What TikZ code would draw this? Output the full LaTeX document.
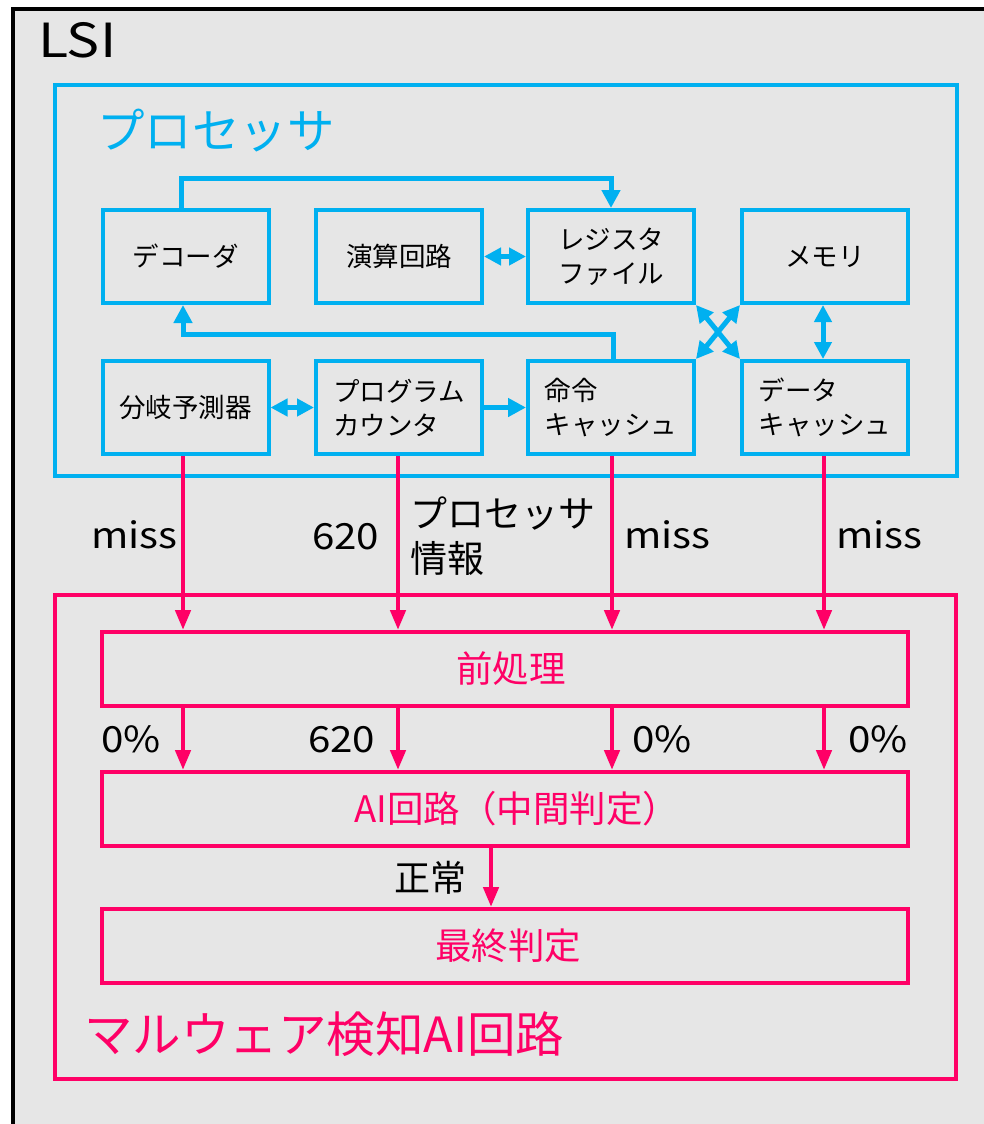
\documentclass[tikz,border=0pt]{standalone}
\usepackage{fontspec}
\setmainfont{Noto Sans CJK JP}
\newfontfamily\widefont[FakeStretch=1.12]{Noto Sans CJK JP}
\newfontfamily\wlsifont[FakeStretch=1.18]{Noto Sans CJK JP}
\usetikzlibrary{arrows.meta,calc}
\definecolor{cy}{HTML}{00B0F0}
\definecolor{pk}{HTML}{FF0066}
\definecolor{bg}{HTML}{E6E6E6}
\tikzset{
  cbox/.style={draw=cy, line width=4pt, minimum width=166pt, minimum height=93pt, inner sep=0pt, align=left, font=\fontsize{26.5}{34}\selectfont},
  pbox/.style={draw=pk, line width=4pt, minimum width=806pt, minimum height=74pt, inner sep=0pt, text=pk, font=\fontsize{36.5}{40}\selectfont},
  carrow/.style={draw=cy, line width=5pt, -{Triangle[length=18pt,width=18pt]}},
  cdarrow/.style={draw=cy, line width=5pt, {Triangle[length=17pt,width=17pt]}-{Triangle[length=17pt,width=17pt]}},
  parrow/.style={draw=pk, line width=4.5pt, -{Triangle[length=20pt,width=15pt]}},
  lab/.style={font=\widefont\fontsize{36}{45}\selectfont, inner sep=0pt, anchor=base west},
}
\begin{document}
\begin{tikzpicture}[x=1pt,y=-1pt]
\useasboundingbox (0,0) rectangle (984,1124);
\fill[white] (0,0) rectangle (984,1124);
\draw[line width=3.5pt, fill=bg] (13,9) rectangle (1010,1150);
\node[lab, font=\wlsifont\fontsize{47}{50}\selectfont] (lsi) at (38,58) {LSI};
% processor
\draw[draw=cy, line width=4pt] (55,85) rectangle (957,476);
\node[lab, text=cy, font=\fontsize{47.5}{50}\selectfont] (proct) at (97,148) {プロセッサ};
\node[cbox] (dec) at (185.5,256.5) {デコーダ};
\node[cbox] (alu) at (399,256.5) {演算回路};
\node[cbox] (reg) at (611,256.5) {レジスタ\\ファイル};
\node[cbox] (mem) at (825,256.5) {メモリ};
\node[cbox] (bp) at (185.5,407.5) {分岐予測器};
\node[cbox] (pc) at (399,407.5) {プログラム\\カウンタ};
\node[cbox] (ic) at (611,407.5) {命令\\キャッシュ};
\node[cbox] (dc) at (825,407.5) {データ\\キャッシュ};
\draw[carrow] ([xshift=-4.5pt]dec.north) |- ($(reg.north)+(0,-30)$) -- (reg.north);
\draw[carrow] ([xshift=2pt]ic.north) |- ($([xshift=-2.5pt]dec.south)+(0,29)$) -- ([xshift=-2.5pt]dec.south);
\draw[cdarrow] (alu.east) -- (reg.west);
\draw[cdarrow] (bp.east) -- (pc.west);
\draw[carrow] (pc.east) -- (ic.west);
\draw[cdarrow] (reg.south east) -- (dc.north west);
\draw[cdarrow] (mem.south west) -- (ic.north east);
\draw[cdarrow] ([xshift=-2pt]mem.south) -- ([xshift=-2pt]dc.north);
% malware detection
\draw[draw=pk, line width=4pt] (55,595) rectangle (956,1079);
\node[pbox] (pre) at (505,669) {\hspace*{12pt}前処理};
\node[pbox] (ai) at (505,809) {\hspace*{24pt}AI回路（中間判定）};
\node[pbox] (fin) at (505,946) {\hspace*{6pt}最終判定};
\node[lab, text=pk, font=\fontsize{48.5}{50}\selectfont] (mal) at (84,1052) {マルウェア検知AI回路};
\draw[parrow] ([xshift=-2.5pt]bp.south) -- ([xshift=-2.5pt]bp.south |- pre.north);
\draw[parrow] ([xshift=-1pt]pc.south) -- ([xshift=-1pt]pc.south |- pre.north);
\draw[parrow] ([xshift=1pt]ic.south) -- ([xshift=1pt]ic.south |- pre.north);
\draw[parrow] ([xshift=-1pt]dc.south) -- ([xshift=-1pt]dc.south |- pre.north);
\draw[parrow] ([xshift=-2.5pt]bp.south |- pre.south) -- ([xshift=-2.5pt]bp.south |- ai.north);
\draw[parrow] ([xshift=-1pt]pc.south |- pre.south) -- ([xshift=-1pt]pc.south |- ai.north);
\draw[parrow] ([xshift=1pt]ic.south |- pre.south) -- ([xshift=1pt]ic.south |- ai.north);
\draw[parrow] ([xshift=-1pt]dc.south |- pre.south) -- ([xshift=-1pt]dc.south |- ai.north);
\draw[parrow] ([xshift=-14pt]ai.south) -- ([xshift=-14pt]ai.south |- fin.north);
% labels
\node[lab] (l1) at (91,548) {miss};
\node[lab] (l2) at (312,549) {620};
\node[lab, font=\fontsize{37}{45}\selectfont, align=left, anchor=north west] (l3) at (410,497) {プロセッサ\\情報};
\node[lab] (l4) at (624,548) {miss};
\node[lab] (l5) at (836,548) {miss};
\node[lab] (m1) at (101,752) {0\%};
\node[lab] (m2) at (308,752) {620};
\node[lab] (m3) at (632,752) {0\%};
\node[lab] (m4) at (848,752) {0\%};
\node[lab, font=\fontsize{36}{45}\selectfont] (ok) at (394,891) {正常};
\end{tikzpicture}
\end{document}
